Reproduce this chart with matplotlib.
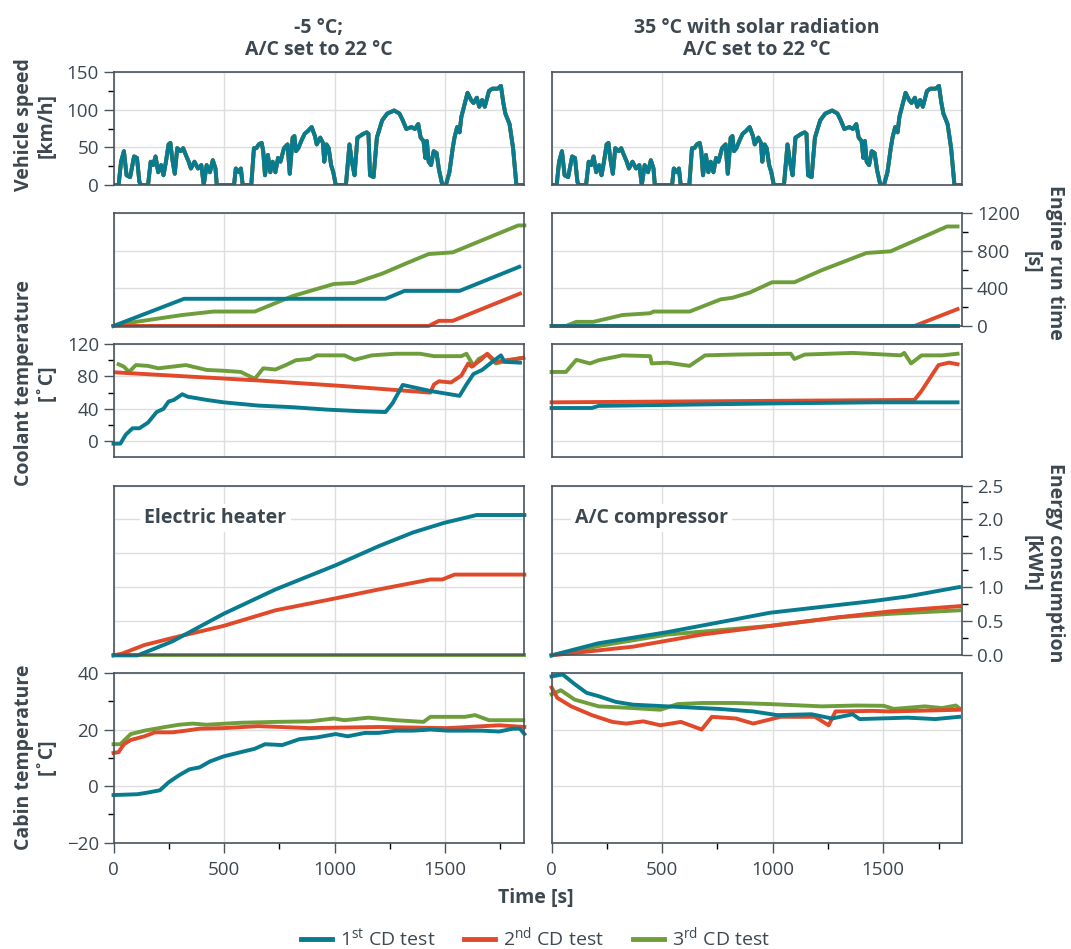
import matplotlib.pyplot as plt
from matplotlib.ticker import MultipleLocator

plt.rcParams["font.family"] = ["Open Sans", "DejaVu Sans"]
plt.rcParams["mathtext.fontset"] = "custom"
plt.rcParams["mathtext.rm"] = "Open Sans"

TEXT = "#3d4750"
SPINE = "#4a545c"
TEAL = "#087b8e"
RED = "#e0492a"
GREEN = "#6e9e3c"

tests = ["1$^{\\mathrm{st}}$ CD test", "2$^{\\mathrm{nd}}$ CD test", "3$^{\\mathrm{rd}}$ CD test"]
colors = [TEAL, RED, GREEN]

# vehicle speed trace (same cycle in both chambers) [s], [km/h]
speed_t = [0, 23, 34, 47, 59, 75, 93, 106, 117, 125, 156, 168, 179, 190, 202, 215, 226, 237, 249, 257,
           265, 277, 288, 304, 315, 327, 340, 350, 366, 382, 397, 408, 421, 436, 449, 461, 467, 545, 553, 568,
           576, 584, 623, 635, 646, 657, 670, 677, 685, 698, 709, 720, 732, 744, 755, 771, 787, 797, 810, 818,
           825, 836, 849, 864, 880, 896, 911, 919, 935, 947, 953, 963, 973, 984, 994, 1005, 1051, 1067, 1078, 1090,
           1103, 1114, 1129, 1145, 1153, 1160, 1176, 1191, 1215, 1238, 1269, 1293, 1308, 1324, 1347, 1363, 1378, 1389, 1402, 1410,
           1417, 1425, 1436, 1448, 1461, 1472, 1487, 1503, 1519, 1534, 1542, 1554, 1565, 1573, 1589, 1601, 1617, 1628, 1643, 1654,
           1667, 1679, 1698, 1713, 1737, 1752, 1763, 1772, 1791, 1807, 1822, 1858]
speed_v = [0, 0, 31, 45, 13, 10.5, 38, 36, 4, 0, 0, 31, 26.5, 38, 17, 26.5, 13, 31, 54, 56,
           36, 15, 49, 45, 49, 40, 31, 22, 31, 22, 26.5, 0, 26.5, 17, 33, 22, 0, 0, 22, 17,
           22, 0, 0, 49, 49, 54, 56, 45, 13, 40, 17, 31, 17, 36, 31, 49, 54, 15, 63, 65,
           45, 49, 58.5, 68, 72, 77, 65, 54, 63, 56, 31, 54, 49, 26.5, 17, 0, 0, 54, 31, 13,
           63, 65, 68, 70, 68, 13, 10.5, 63, 86, 95, 99, 95, 86, 74.5, 77, 74.5, 81, 63, 58.5, 36,
           58.5, 31, 26.5, 45, 42.5, 20, 0, 0, 17, 49, 63, 77, 70, 90.5, 109, 122.5, 113, 109, 116, 104,
           113, 104, 125, 128, 128, 131.7, 109, 95, 81, 49, 0, 0]

# engine run time [s]
eng_cold_t = [
    [0, 319, 1230, 1316, 1565, 1835],
    [0, 1425, 1472, 1534, 1838],
    [0, 101, 311, 452, 639, 810, 997, 1090, 1215, 1324, 1425, 1534, 1830, 1858],
]
eng_cold_v = [
    [0, 290, 290, 374, 374, 631],
    [0, 0, 55, 55, 345],
    [0, 44, 117, 154, 154, 319, 448, 459, 558, 668, 767, 785, 1072, 1072],
]
eng_hot_t = [
    [0, 1836],
    [0, 1641, 1836],
    [0, 65, 112, 189, 321, 446, 461, 624, 764, 818, 896, 997, 1098, 1222, 1424, 1533, 1789, 1836],
]
eng_hot_v = [
    [0, 0],
    [0, 0, 180],
    [0, 0, 44, 44, 117, 136, 154, 154, 283, 301, 356, 466, 466, 595, 778, 796, 1061, 1061],
]

# coolant temperature [C]
cool_cold_t = [
    [0, 31, 55, 86, 117, 156, 195, 226, 249, 273, 311, 335, 421, 498, 654, 810, 966, 1121, 1230, 1262,
     1308, 1433, 1565, 1596, 1628, 1667, 1713, 1752, 1768, 1838],
    [8, 265, 654, 1044, 1433, 1449, 1472, 1526, 1573, 1604, 1620, 1659, 1690, 1729, 1853],
    [23, 47, 70, 101, 156, 202, 327, 421, 498, 576, 639, 677, 732, 779, 825, 888, 919, 1044, 1090, 1168,
     1277, 1386, 1449, 1573, 1596, 1628, 1651, 1690, 1729, 1791, 1853],
]
cool_cold_v = [
    [-3, -3, 8, 16, 16, 23, 36, 40, 49, 51, 58, 55, 51, 48, 44, 42, 39, 37, 36, 47,
     69.5, 62, 56, 70, 83, 88, 98, 106, 98, 97],
    [85, 81, 75, 68, 60, 70, 74, 72.5, 81, 96, 92, 100, 108, 98, 103],
    [95, 92, 85.5, 94, 93, 90, 94, 88, 87, 85.5, 77, 90, 88.5, 94, 100, 101.5, 106, 106, 100.5, 106,
     108, 108, 105, 105, 108, 93, 101.5, 107, 96, 100, 103],
]
cool_hot_t = [
    [0, 182, 213, 989, 1455, 1836],
    [0, 1641, 1673, 1704, 1750, 1797, 1836],
    [0, 65, 112, 174, 213, 321, 446, 453, 523, 624, 694, 834, 1082, 1098, 1145, 1362, 1579, 1595, 1626, 1673,
     1766, 1836],
]
cool_hot_v = [
    [41, 41, 43.6, 46.6, 48, 48],
    [48, 51, 62, 75, 94, 97, 95],
    [85.5, 85.5, 100.5, 96, 100, 106, 105, 96, 97, 93, 106, 107, 108, 101.5, 107, 109, 106, 109, 96, 106,
     106, 108],
]

# energy consumption [kWh]: electric heater (cold) / A/C compressor (hot)
en_cold_t = [
    [0, 109, 265, 498, 732, 1005, 1199, 1355, 1495, 1643, 1858],
    [0, 39, 140, 265, 498, 732, 1005, 1199, 1433, 1487, 1542, 1858],
    [0, 1858],
]
en_cold_v = [
    [0, 0, 0.204, 0.612, 0.97, 1.327, 1.607, 1.81, 1.95, 2.066, 2.066],
    [0, 0.026, 0.153, 0.255, 0.434, 0.663, 0.84, 0.97, 1.117, 1.117, 1.189, 1.189],
    [0, 0],
]
en_hot_t = [
    [0, 213, 523, 756, 989, 1222, 1455, 1610, 1843],
    [0, 368, 679, 989, 1300, 1533, 1843],
    [0, 213, 523, 989, 1300, 1533, 1843],
]
en_hot_v = [
    [0, 0.179, 0.342, 0.485, 0.628, 0.714, 0.80, 0.867, 1.005],
    [0, 0.128, 0.306, 0.434, 0.561, 0.648, 0.724],
    [0, 0.138, 0.306, 0.434, 0.561, 0.612, 0.663],
]

# cabin temperature [C]
cab_cold_t = [
    [0, 109, 156, 210, 249, 296, 343, 389, 436, 498, 576, 639, 685, 763, 841, 919, 1005, 1059, 1137, 1199,
     1277, 1355, 1433, 1511, 1667, 1744, 1807, 1838, 1858],
    [0, 23, 47, 78, 140, 187, 265, 327, 389, 498, 654, 888, 1199, 1511, 1744, 1858],
    [0, 31, 78, 140, 234, 296, 358, 421, 576, 732, 888, 997, 1044, 1153, 1277, 1402, 1433, 1589, 1635, 1698,
     1853],
]
cab_cold_v = [
    [-3.2, -2.9, -2.3, -1.5, 1.3, 3.8, 5.9, 6.6, 8.7, 10.5, 12, 13.2, 14.8, 14.5, 16.6, 17.2, 18.4, 17.6, 18.8, 18.8,
     19.6, 19.6, 20, 19.6, 19.6, 19.3, 20.3, 20.3, 18.4],
    [11.7, 12, 14.8, 16.3, 17.6, 19, 19, 19.6, 20.3, 20.5, 21.2, 20.5, 20.9, 20.5, 21.5, 20.9],
    [14.8, 14.8, 18.4, 19.6, 20.9, 21.7, 22.1, 21.7, 22.4, 22.7, 22.9, 23.9, 23.3, 24.2, 23.3, 22.7, 24.5, 24.5, 25.1, 23.3,
     23.3],
]
cab_hot_t = [
    [0, 50, 104, 158, 213, 290, 368, 523, 756, 912, 1020, 1176, 1269, 1362, 1393, 1610, 1735, 1843],
    [0, 26, 89, 182, 275, 337, 415, 492, 585, 679, 725, 834, 912, 1036, 1191, 1253, 1284, 1455, 1533, 1843],
    [0, 42, 104, 213, 368, 492, 570, 679, 834, 989, 1222, 1377, 1502, 1548, 1688, 1766, 1828, 1843],
]
cab_hot_v = [
    [38.8, 39.5, 36.1, 33, 31.8, 29.8, 28.8, 28.2, 27.3, 26.4, 25.1, 25.4, 23.9, 25.4, 23.7, 24.2, 23.7, 24.5],
    [34.9, 31.2, 28.2, 25.1, 22.7, 22.1, 22.9, 21.5, 22.7, 20, 24.5, 23.9, 22.1, 24.5, 24.5, 21.5, 26.4, 26.6, 26.4, 27],
    [32.5, 33.9, 30.6, 28.2, 27.6, 27, 29, 29.4, 29.4, 29, 28.2, 28.5, 28.4, 27.3, 28.2, 27.6, 28.5, 27.6],
]

fig = plt.figure(figsize=(10.71, 9.49), dpi=100)

col_x = [0.106, 0.515]
col_w = 0.3836
rows = [(0.805, 0.119), (0.6565, 0.1186), (0.518, 0.1195), (0.3094, 0.179), (0.1122, 0.1786)]
ylims = [(0, 150), (0, 1200), (-20, 120), (0, 2.5), (-20, 40)]
majors = [50, 400, 40, 0.5, 20]
minors = [25, 200, 20, 0.25, 10]
label_side = ["left", "right", "left", "right", "left"]

axes = [[None, None] for _ in rows]
for r, (b, h) in enumerate(rows):
    for c in range(2):
        ax = fig.add_axes([col_x[c], b, col_w, h])
        axes[r][c] = ax
        ax.set_xlim(0, 1858)
        ax.set_ylim(*ylims[r])
        ax.yaxis.set_major_locator(MultipleLocator(majors[r]))
        ax.xaxis.set_major_locator(MultipleLocator(500))
        ax.set_axisbelow(True)
        ax.grid(True, which="major", color="#dedede", lw=1)
        for s in ax.spines.values():
            s.set_color(SPINE)
            s.set_linewidth(1.2)
        ax.tick_params(colors=SPINE, labelcolor=TEXT, labelsize=13.5, direction="out")
        # y ticks
        show_y = (label_side[r] == "left" and c == 0) or (label_side[r] == "right" and c == 1)
        if show_y:
            ax.yaxis.set_minor_locator(MultipleLocator(minors[r]))
            ax.tick_params(axis="y", which="major", length=7, width=1)
            ax.tick_params(axis="y", which="minor", length=4, width=1)
            if label_side[r] == "right":
                ax.yaxis.tick_right()
                ax.yaxis.set_ticks_position("right")
        else:
            ax.tick_params(axis="y", which="both", length=0, labelleft=False, labelright=False)
        # x ticks
        if r == 4:
            ax.xaxis.set_minor_locator(MultipleLocator(250))
            ax.tick_params(axis="x", which="major", length=7, width=1, pad=6)
            ax.tick_params(axis="x", which="minor", length=4, width=1)
        else:
            ax.tick_params(axis="x", which="both", length=0, labelbottom=False)

axes[2][0].set_yticks([0, 40, 80, 120])
axes[2][1].set_yticks([0, 40, 80, 120])
axes[2][0].set_yticks([20, 60, 100], minor=True)
axes[3][1].yaxis.set_major_formatter(lambda v, p: f"{v:.1f}")

lw = 2.8
# speed: all three tests overlap, 1st test on top
for c in range(2):
    for col in [RED, GREEN, TEAL]:
        axes[0][c].plot(speed_t, speed_v, color=col, lw=lw, solid_joinstyle="round")

panels = [
    (1, eng_cold_t, eng_cold_v, eng_hot_t, eng_hot_v),
    (2, cool_cold_t, cool_cold_v, cool_hot_t, cool_hot_v),
    (3, en_cold_t, en_cold_v, en_hot_t, en_hot_v),
    (4, cab_cold_t, cab_cold_v, cab_hot_t, cab_hot_v),
]
order = [2, 1, 0]
for r, ct, cv, ht, hv in panels:
    for i in order:
        axes[r][0].plot(ct[i], cv[i], color=colors[i], lw=lw, solid_joinstyle="round", clip_on=False)
        axes[r][1].plot(ht[i], hv[i], color=colors[i], lw=lw, solid_joinstyle="round", clip_on=False)

# titles
axes[0][0].set_title("-5 °C;\nA/C set to 22 °C", fontsize=14, fontweight="bold", color=TEXT, pad=12,
                     linespacing=1.15)
axes[0][1].set_title("35 °C with solar radiation\nA/C set to 22 °C", fontsize=14, fontweight="bold",
                     color=TEXT, pad=12, linespacing=1.15)

# panel annotations
for ax, txt in [(axes[3][0], "Electric heater"), (axes[3][1], "A/C compressor")]:
    ax.text(0.075 if txt.startswith("E") else 0.057, 0.81, txt, transform=ax.transAxes, fontsize=14,
            fontweight="bold", color=TEXT, va="center", ha="left",
            bbox=dict(facecolor="white", edgecolor="none", pad=3))

# y labels
lab = dict(fontsize=14, fontweight="bold", color=TEXT, ha="center", va="center", linespacing=1.2)
fig.text(0.033, 1 - 125 / 949, "Vehicle speed\n[km/h]", rotation=90, **lab)
fig.text(0.033, 1 - 383 / 949, "Coolant temperature\n[˚C]", rotation=90, **lab)
fig.text(0.033, 1 - 757 / 949, "Cabin temperature\n[˚C]", rotation=90, **lab)
fig.text(0.974, 1 - 262 / 949, "Engine run time\n[s]", rotation=270, **lab)
fig.text(0.974, 1 - 563 / 949, "Energy consumption\n[kWh]", rotation=270, **lab)

fig.text(0.5, 1 - 898 / 949, "Time [s]", **lab)

handles = [plt.Line2D([], [], color=colors[i], lw=3.5) for i in range(3)]
fig.legend(handles, tests, loc="center", bbox_to_anchor=(0.5, 1 - 938 / 949), ncol=3, frameon=False,
           fontsize=14, handlelength=1.6, columnspacing=1.5, handletextpad=0.4, labelcolor=TEXT)

fig.savefig("out.png", dpi=100)
